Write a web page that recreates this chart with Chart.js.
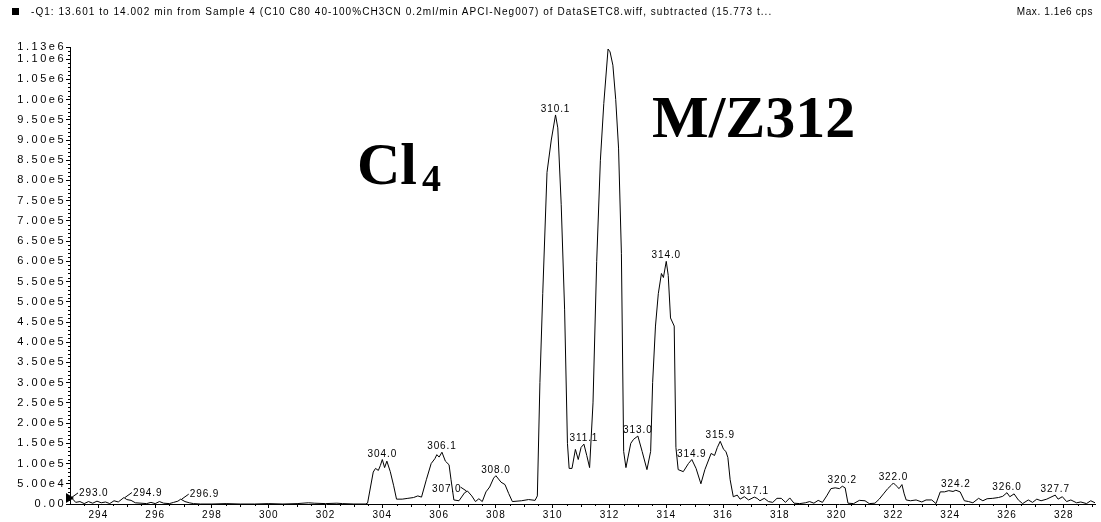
<!DOCTYPE html>
<html>
<head>
<meta charset="utf-8">
<script src="https://cdn.jsdelivr.net/npm/chart.js@4/dist/chart.umd.min.js"></script>
<style>
  html, body { margin: 0; padding: 0; background: #fff; }
  #wrap { position: relative; width: 1101px; height: 522px; overflow: hidden; }
  #c { position: absolute; left: 0; top: 0; }
  .hdr { position: absolute; top: 6px; font: 10px "Liberation Sans", Arial, sans-serif; letter-spacing: 0.6px; color: #000; white-space: nowrap; line-height: 12px; }
  .hdr.wide { letter-spacing: 1.05px; }
  .sq { position: absolute; left: 12px; top: 8px; width: 7px; height: 7px; background: #000; }
  .big { position: absolute; font-family: "Liberation Serif", "Times New Roman", serif; font-weight: bold; color: #000; white-space: nowrap; line-height: 1; font-size: 60px; }
  .big sub { font-size: 38px; vertical-align: -7px; line-height: 0; margin-left: 5px; }
</style>
</head>
<body>
<div id="wrap">
  <canvas id="c" width="1101" height="522"></canvas>
  <div class="sq"></div>
  <div class="hdr wide" style="left:31px">-Q1: 13.601 to 14.002 min from Sample 4 (C10 C80 40-100%CH3CN 0.2ml/min APCI-Neg007) of DataSETC8.wiff, subtracted (15.773 t...</div>
  <div class="hdr" style="right:8px">Max. 1.1e6 cps</div>
  <div class="big" style="left:357px; top:134px">Cl<sub>4</sub></div>
  <div class="big" style="left:652px; top:87px">M/Z312</div>
</div>
<script>
// Spectrum profile: m/z and intensity (thousands of counts per second)
const mz = [
  293.00, 293.10, 293.20, 293.35, 293.50, 293.65, 293.80, 293.95, 294.10, 294.25,
  294.40, 294.55, 294.70, 294.90, 295.00, 295.15, 295.30, 295.50, 295.70, 295.85,
  296.00, 296.15, 296.30, 296.50, 296.65, 296.80, 296.90, 297.05, 297.20, 297.35,
  297.60, 298.00, 298.50, 299.00, 299.50, 300.00, 300.50, 301.00, 301.40, 301.60,
  302.00, 302.40, 302.60, 303.00, 303.40, 303.48, 303.68, 303.76, 303.86, 303.93,
  304.00, 304.08, 304.16, 304.28, 304.40, 304.50, 304.70, 304.90, 305.10, 305.25,
  305.38, 305.55, 305.72, 305.85, 305.92, 306.00, 306.10, 306.22, 306.35, 306.42,
  306.52, 306.70, 306.90, 307.00, 307.15, 307.28, 307.40, 307.52, 307.65, 307.78,
  307.92, 308.00, 308.18, 308.32, 308.45, 308.58, 308.90, 309.15, 309.38, 309.46,
  309.55, 309.65, 309.80, 309.95, 310.10, 310.18, 310.30, 310.42, 310.52, 310.58,
  310.68, 310.80, 310.90, 311.00, 311.10, 311.20, 311.30, 311.42, 311.55, 311.68,
  311.80, 311.95, 312.02, 312.12, 312.22, 312.32, 312.42, 312.50, 312.58, 312.75,
  312.85, 313.00, 313.15, 313.32, 313.45, 313.52, 313.62, 313.72, 313.83, 313.90,
  314.00, 314.07, 314.15, 314.28, 314.34, 314.42, 314.60, 314.78, 314.90, 315.05,
  315.22, 315.36, 315.58, 315.70, 315.80, 315.90, 316.02, 316.10, 316.17, 316.25,
  316.36, 316.50, 316.60, 316.75, 316.90, 317.10, 317.20, 317.30, 317.45, 317.60,
  317.75, 317.90, 318.05, 318.20, 318.35, 318.50, 318.70, 318.90, 319.05, 319.20,
  319.35, 319.50, 319.65, 319.80, 319.95, 320.10, 320.20, 320.30, 320.40, 320.60,
  320.80, 321.00, 321.15, 321.35, 321.50, 321.65, 321.80, 321.92, 322.00, 322.10,
  322.20, 322.30, 322.38, 322.45, 322.60, 322.80, 323.00, 323.15, 323.35, 323.50,
  323.65, 323.80, 323.95, 324.10, 324.20, 324.35, 324.50, 324.65, 324.80, 325.00,
  325.15, 325.30, 325.50, 325.70, 325.85, 326.00, 326.10, 326.25, 326.40, 326.55,
  326.75, 326.90, 327.05, 327.20, 327.40, 327.55, 327.70, 327.80, 327.95, 328.10,
  328.25, 328.45, 328.60, 328.80, 328.95, 329.10
];
const intensity = [
  15, 12, 4, 6, 1, 6, 2, 7, 3, 5,
  1, 8, 5, 16, 11, 9, 3, 2, 1, 4,
  1, 6, 2, 1, 4, 7, 12, 6, 3, 1,
  0, 0, 1, 0, 0, 1, 0, 1, 3, 2,
  1, 2, 1, 0, 0, 2, 79, 88, 83, 95,
  110, 90, 106, 80, 45, 12, 12, 14, 16, 20,
  17, 60, 100, 112, 122, 116, 128, 106, 97, 60,
  10, 8, 28, 32, 20, 6, 13, 6, 30, 42,
  64, 70, 54, 48, 26, 6, 8, 11, 9, 20,
  300, 520, 820, 900, 962, 930, 740, 480, 150, 88,
  88, 135, 110, 140, 148, 120, 90, 250, 600, 850,
  990, 1125, 1118, 1085, 1000, 880, 620, 130, 90, 150,
  160, 168, 130, 85, 130, 300, 440, 520, 570, 560,
  600, 565, 460, 440, 140, 85, 80, 100, 110, 88,
  50, 85, 125, 120, 140, 155, 135, 130, 115, 60,
  18, 22, 12, 18, 10, 17, 14, 8, 14, 6,
  4, 14, 14, 4, 15, 2, 1, 3, 6, 2,
  9, 4, 20, 38, 40, 38, 44, 40, 2, 1,
  9, 8, 1, 2, 12, 25, 38, 46, 52, 45,
  38, 48, 25, 10, 8, 10, 5, 10, 10, 1,
  30, 30, 33, 31, 34, 30, 8, 6, 3, 14,
  8, 13, 14, 16, 19, 28, 18, 25, 10, 1,
  10, 4, 12, 8, 12, 17, 22, 12, 18, 6,
  10, 3, 5, 1, 8, 3
];

// Annotated peaks (m/z)
const peakLabels = [293.0, 294.9, 296.9, 304.0, 306.1, 307.0, 308.0, 310.1, 311.1,
  313.0, 314.0, 314.9, 315.9, 317.1, 320.2, 322.0, 324.2, 326.0, 327.7];

// Axis ticks
const xTicks = [294, 296, 298, 300, 302, 304, 306, 308, 310, 312, 314, 316, 318, 320, 322, 324, 326, 328];
const yTicks = [0, 50, 100, 150, 200, 250, 300, 350, 400, 450, 500, 550, 600, 650, 700, 750,
  800, 850, 900, 950, 1000, 1050, 1100, 1130];

const FONT = '"Liberation Sans", Arial, sans-serif';

function fmtY(v) {
  if (v === 0) return '0.00';
  return (v * 1000).toExponential(2).replace('e+', 'e');
}

// Peaks labelled off to one side with a short leader line
const leaderSide = { '293.0': 1, '294.9': 1, '296.9': 1, '307.0': -1 };

const decor = {
  id: 'decor',
  afterLayout(chart) {
    // wider character spacing for the intensity labels
    const s = chart.scales.y;
    if (s && !s._spaced) {
      const orig = s.drawLabels.bind(s);
      s.drawLabels = (area) => {
        const ctx = s.ctx;
        const prev = ctx.letterSpacing;
        ctx.letterSpacing = '2.5px';
        orig(area);
        ctx.letterSpacing = prev;
      };
      s._spaced = true;
    }
  },
  beforeDraw(chart) {
    chart.ctx.letterSpacing = '1px';
  },
  afterDraw(chart) {
    const ctx = chart.ctx;
    const xs = chart.scales.x, ys = chart.scales.y;
    const ca = chart.chartArea;
    ctx.save();
    ctx.strokeStyle = '#000';
    ctx.lineWidth = 1;
    // minor ticks on the intensity axis
    ctx.beginPath();
    for (let v = 10; v < 1130; v += 10) {
      if (v % 50 === 0) continue;
      const y = Math.round(ys.getPixelForValue(v)) + 0.5;
      ctx.moveTo(ca.left - 2, y);
      ctx.lineTo(ca.left, y);
    }
    // minor ticks on the m/z axis
    for (let v = 293.5; v < 329.1; v += 0.5) {
      if (Math.abs(v % 2) < 1e-9) continue;
      const x = Math.round(xs.getPixelForValue(v)) + 0.5;
      const len = Math.abs(v % 1) < 1e-9 ? 3 : 2;
      ctx.moveTo(x, ca.bottom);
      ctx.lineTo(x, ca.bottom + len);
    }
    ctx.stroke();

    // start marker on the axis
    ctx.fillStyle = '#000';
    ctx.beginPath();
    ctx.moveTo(ca.left - 4, ca.bottom - 11);
    ctx.lineTo(ca.left + 4, ca.bottom - 6);
    ctx.lineTo(ca.left - 4, ca.bottom - 1);
    ctx.closePath();
    ctx.fill();

    // peak annotations
    ctx.font = '10px ' + FONT;
    ctx.letterSpacing = '0.9px';
    ctx.textBaseline = 'alphabetic';
    peakLabels.forEach(p => {
      const i = mz.findIndex(m => Math.abs(m - p) < 1e-6);
      if (i < 0) return;
      const px = xs.getPixelForValue(mz[i]);
      const py = ys.getPixelForValue(intensity[i]);
      const txt = p.toFixed(1);
      const side = leaderSide[txt];
      if (side === 1) {
        ctx.beginPath();
        ctx.moveTo(Math.max(px, ca.left) + 1, py);
        ctx.lineTo(Math.max(px, ca.left) + 8, py - 5);
        ctx.stroke();
        ctx.textAlign = 'left';
        ctx.fillText(txt, Math.max(px, ca.left) + 9, py - 2);
      } else if (side === -1) {
        ctx.beginPath();
        ctx.moveTo(px - 1, py);
        ctx.lineTo(px - 7, py - 4);
        ctx.stroke();
        ctx.textAlign = 'right';
        ctx.fillText(txt, px - 6, py + 1);
      } else {
        ctx.textAlign = 'center';
        ctx.fillText(txt, px, py - 3);
      }
    });
    ctx.restore();
  }
};

new Chart(document.getElementById('c'), {
  type: 'line',
  data: {
    datasets: [{
      data: mz.map((m, i) => ({ x: m, y: intensity[i] })),
      borderColor: '#000',
      borderWidth: 1,
      pointRadius: 0,
      tension: 0,
      fill: false
    }]
  },
  options: {
    responsive: false,
    animation: false,
    events: [],
    layout: { padding: { top: 47, right: 6, left: 0, bottom: 0 } },
    plugins: { legend: { display: false }, tooltip: { enabled: false }, title: { display: false } },
    scales: {
      x: {
        type: 'linear',
        min: 293.0,
        max: 329.1,
        afterBuildTicks: s => { s.ticks = xTicks.map(v => ({ value: v })); },
        afterFit: s => { s.height = 18; },
        ticks: {
          autoSkip: false, maxRotation: 0, padding: 1, color: '#000',
          font: { size: 10, family: FONT },
          callback: v => String(v)
        },
        grid: { display: true, drawOnChartArea: false, tickLength: 4, color: '#000' },
        border: { display: true, color: '#000', width: 1 }
      },
      y: {
        min: 0,
        max: 1130,
        afterBuildTicks: s => { s.ticks = yTicks.map(v => ({ value: v })); },
        afterFit: s => { s.width = 70; },
        ticks: {
          autoSkip: false, padding: 0, color: '#000',
          font: { size: 11, family: FONT },
          callback: v => fmtY(v)
        },
        grid: { display: true, drawOnChartArea: false, tickLength: 4, color: '#000' },
        border: { display: true, color: '#000', width: 1 }
      }
    }
  },
  plugins: [decor]
});
</script>
</body>
</html>
